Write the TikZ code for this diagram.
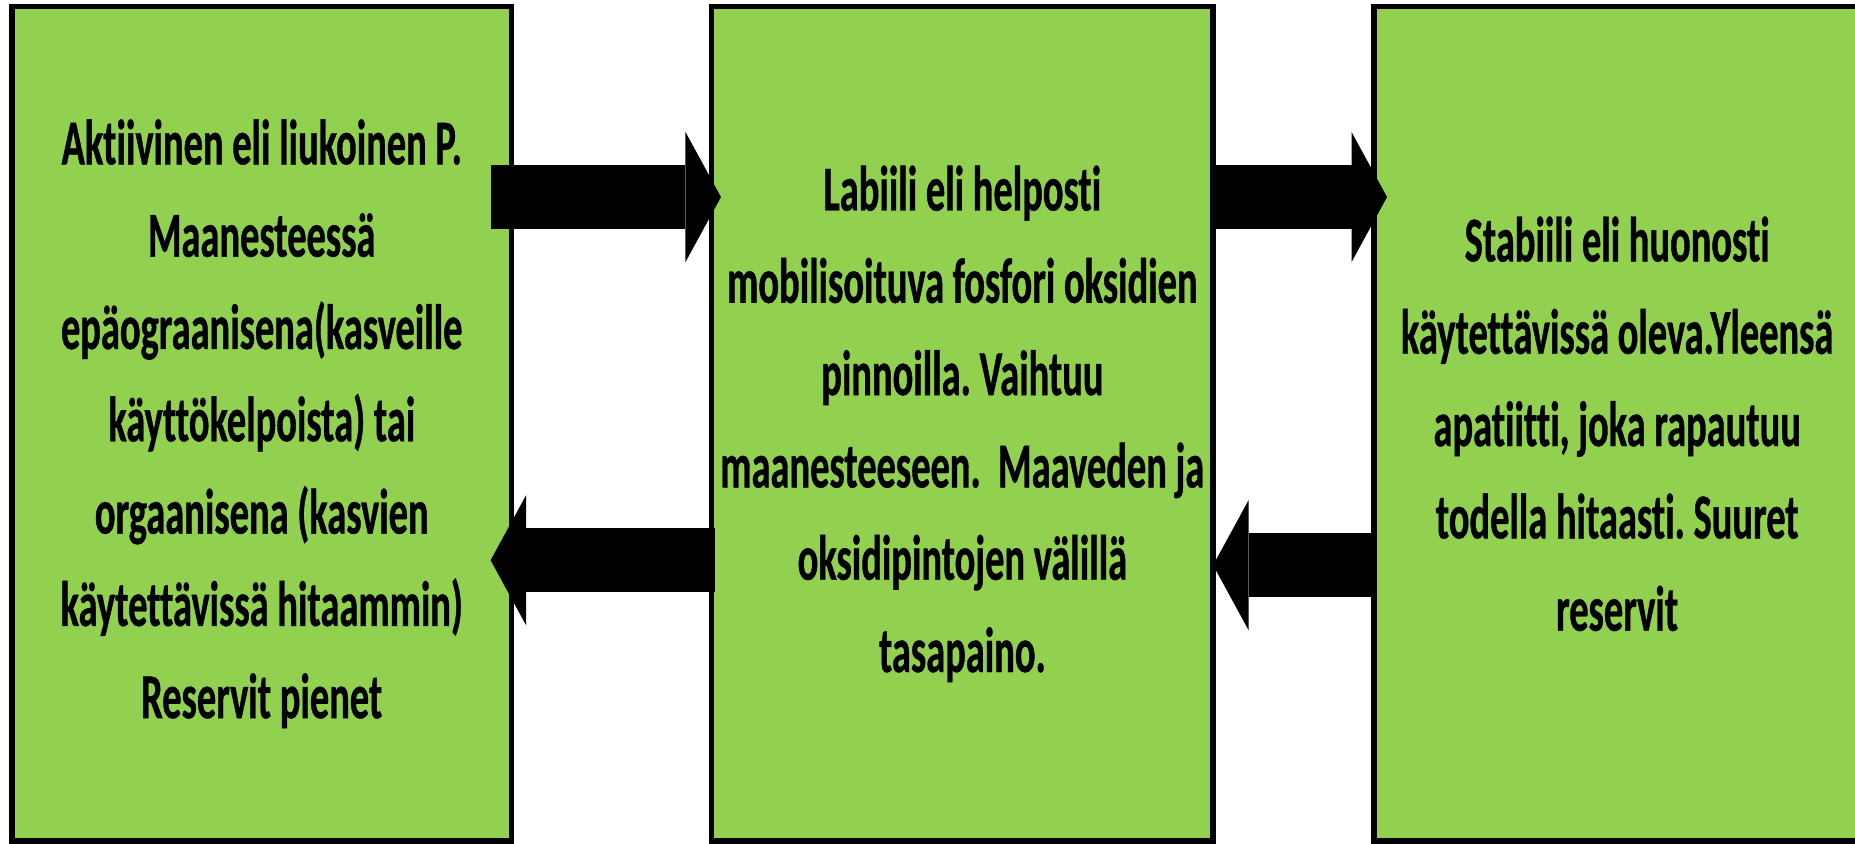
\documentclass[tikz,border=0pt]{standalone}
\usepackage{fontspec}
\setmainfont{Carlito}[FakeStretch=0.6, Ligatures=NoCommon, BoldFeatures={FakeBold=0.6}]
\usepackage{tikz}
\usetikzlibrary{arrows.meta, positioning}
\frenchspacing
\definecolor{poolfill}{RGB}{146,208,80}
\tikzset{
    pool/.style={
        rectangle,
        draw=black,
        line width=0.045cm,
        fill=poolfill,
        outer sep=0pt,
        inner sep=0pt,
        align=center,
        minimum height=7.055cm,
        font=\bfseries\fontsize{15.4pt}{22.2pt}\selectfont
    },
    flow/.style={
        draw=black,
        line width=0.54cm,
        -{Triangle[width=1.1cm, length=0.3cm, line width=0pt]}
    }
}

\begin{document}
\begin{tikzpicture}
\useasboundingbox (0,0) rectangle (15.68,7.13);

% Phosphorus pools
\node[pool, minimum width=4.22cm] (active) at (2.212,3.5475) {Aktiivinen eli liukoinen P.\\Maanesteessä\\epäograanisena(kasveille\\käyttökelpoista) tai\\orgaanisena (kasvien\\käytettävissä hitaammin)\\Reservit pienet};
\node[pool, minimum width=4.24cm, right=1.692cm of active] (labile) {Labiili eli helposti\\mobilisoituva fosfori oksidien\\pinnoilla. Vaihtuu\\maanesteeseen.\ \ Maaveden ja\\oksidipintojen välillä\\tasapaino.};
\node[pool, minimum width=4.11cm, right=1.36cm of labile] (stable) {Stabiili eli huonosti\\käytettävissä oleva.Yleensä\\apatiitti, joka rapautuu\\todella hitaasti. Suuret\\reservit};

% Transfers between pools
\draw[flow, shorten <=-0.175cm, shorten >=-0.08cm] ([yshift=1.917cm]active.east) -- ([yshift=1.917cm]labile.west);
\draw[flow, shorten >=-0.11cm] ([yshift=1.917cm]labile.east) -- ([yshift=1.917cm]stable.west);
\draw[flow, shorten <=-0.03cm, shorten >=-0.175cm] ([yshift=-1.153cm]labile.west) -- ([yshift=-1.153cm]active.east);
\draw[flow] ([yshift=-1.195cm]stable.west) -- ([yshift=-1.195cm]labile.east);

\end{tikzpicture}
\end{document}
